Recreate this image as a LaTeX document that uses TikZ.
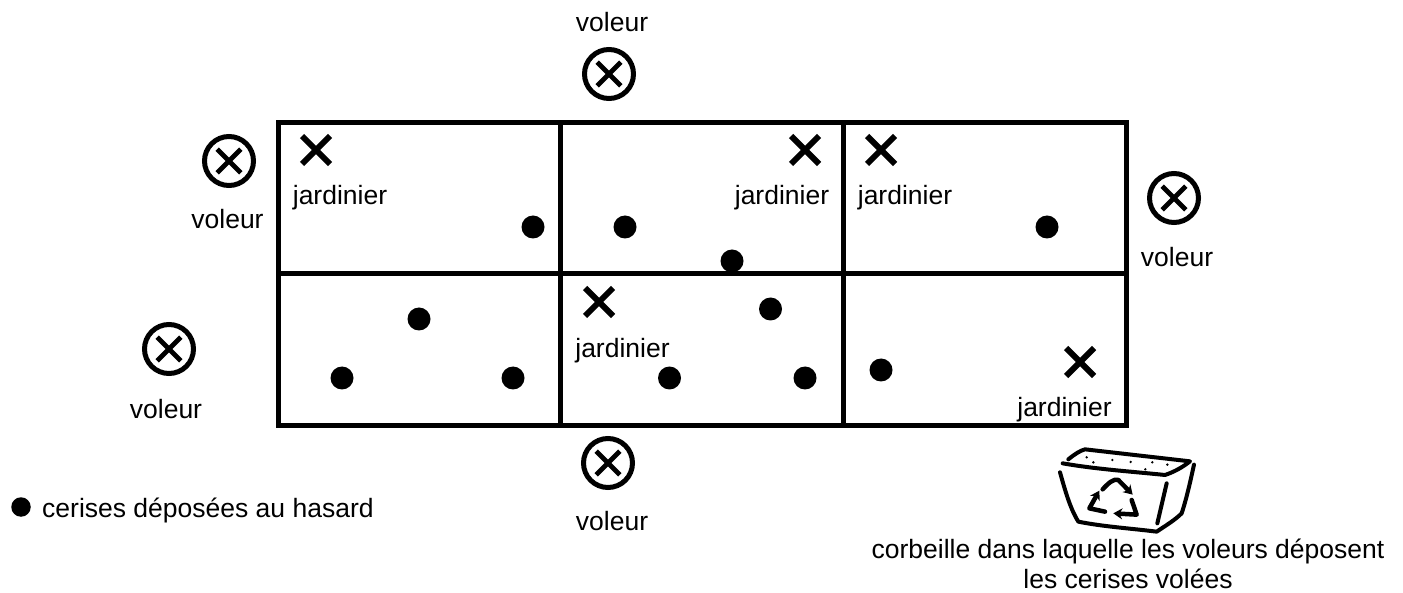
\documentclass[tikz,border=0pt]{standalone}
\usepackage{fontspec}
\setmainfont{Liberation Sans}
\usetikzlibrary{arrows.meta, shapes.misc}
\begin{document}
\begin{tikzpicture}[x=1pt, y=-1pt, every node/.style={font=\fontsize{26.5}{30}\selectfont, inner sep=0pt},
  cell/.style={draw, line width=5pt, minimum height=151.5pt},
  cerise/.style={circle, fill=black, minimum size=23pt},
  mark cross/.style={cross out, draw, line width=#1, minimum size=22pt, inner sep=0pt},
  thief/.style={circle, draw, line width=5pt, minimum size=49pt},
  basket/.style={line width=4pt, line cap=round, line join=round},
  bin arrow/.style={basket, line width=4.5pt, -{Stealth[length=9pt,width=11pt]}}]
  \useasboundingbox (0,0) rectangle (1403,593);
  % grid
  \node[cell, minimum width=281.5pt] (c11) at (419.25,198.25) {};
  \node[cell, minimum width=283.5pt] (c12) at (701.75,198.25) {};
  \node[cell, minimum width=283pt] (c13) at (985,198.25) {};
  \node[cell, minimum width=281.5pt] (c21) at (419.25,349.75) {};
  \node[cell, minimum width=283.5pt] (c22) at (701.75,349.75) {};
  \node[cell, minimum width=283pt] (c23) at (985,349.75) {};
  % jardiniers
  \foreach \name/\cx/\cy/\lx/\ly in {g1/316/150/340/205, g2/805/150/782/205, g3/881/150/905/205, g4/599/302/622.5/358, g5/1080/362/1064.5/417} {
    \node[mark cross=6pt] (\name) at (\cx,\cy) {};
    \node[anchor=base] (\name l) at (\lx,\ly) {jardinier};
  }
  % voleurs
  \foreach \name/\cx/\cy/\lx/\ly in {v1/609/74/612/32, v2/229/161/227.5/229, v3/1174/198/1177/267, v4/169/349/166/418, v5/608/463/612/530} {
    \node[thief] (\name) at (\cx,\cy) {};
    \node[mark cross=4.7pt, minimum size=19pt] at (\name) {};
    \node[anchor=base] (\name l) at (\lx,\ly) {voleur};
  }
  % cerises
  \foreach \cx/\cy in {533/227, 625/227, 732/261, 1047/227, 419/319, 342/378, 513/378, 770.5/309, 669.5/378, 805/378, 881/370}
    \node[cerise] at (\cx,\cy) {};
  % legende
  \node[cerise, minimum size=19.5pt] (leg) at (21,507) {};
  \node[anchor=base west] (legt) at (42,517) {cerises déposées au hasard};
  \node[align=center] (corb) at (1128,563.4) {corbeille dans laquelle les voleurs déposent\\les cerises volées};
  % corbeille
  \begin{scope}[shift={(1020,430)}, x=0.3333pt, y=-0.3333pt]
    \draw[basket] (145,88) .. controls (165,72) and (180,62) .. (195,58) -- (510,94) .. controls (490,110) and (465,125) .. (435,135) .. controls (340,125) and (230,118) .. (128,100);
    \draw[basket] (120,127) .. controls (135,180) and (150,235) .. (175,275) .. controls (250,290) and (330,295) .. (410,305) .. controls (440,285) and (465,270) .. (485,250) .. controls (500,205) and (512,150) .. (522,104);
    \draw[basket] (440,160) -- (412,280);
    \foreach \dx/\dy in {200/82, 220/97, 277/90, 332/96, 397/97, 442/104, 376/118}
      \fill (\dx,\dy) circle (4);
    \draw[bin arrow] (248,178) .. controls (265,160) and (280,145) .. (295,150) -- (338,194);
    \draw[bin arrow] (255,245) -- (208,235) -- (238,182);
    \draw[bin arrow] (335,210) -- (350,254) -- (280,250);
  \end{scope}
\end{tikzpicture}
\end{document}
